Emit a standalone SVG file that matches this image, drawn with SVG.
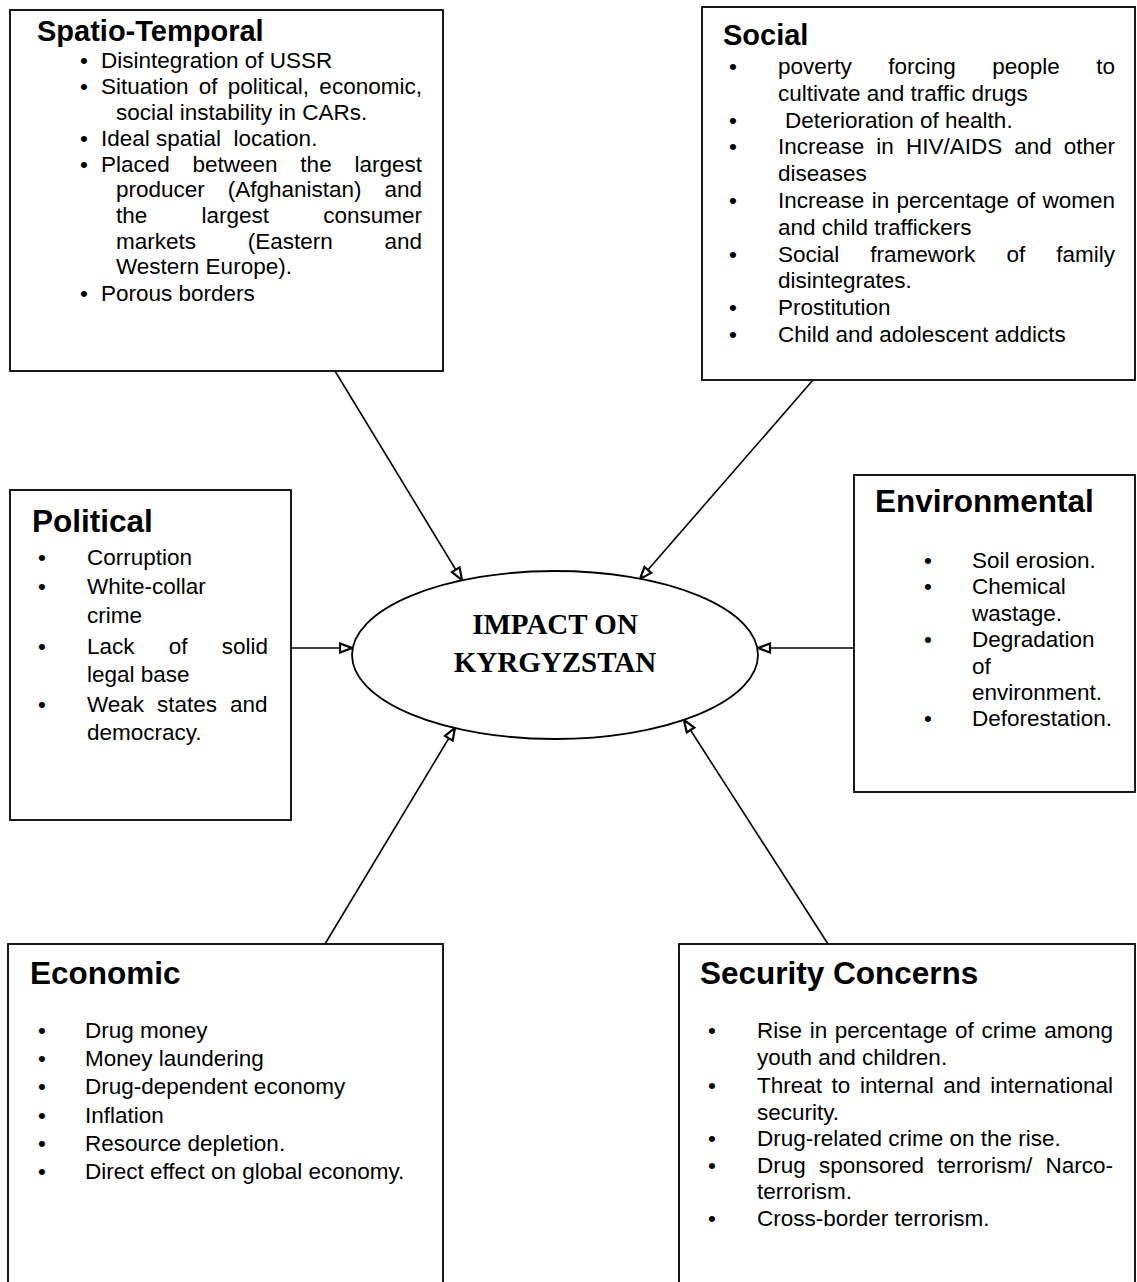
<svg xmlns="http://www.w3.org/2000/svg" width="1137" height="1282" viewBox="0 0 1137 1282">
  <style>
    .box { fill: #fff; stroke: #000; stroke-width: 1.8; }
    .hd { font-family: "Liberation Sans", Arial, sans-serif; font-weight: bold; font-size: 29px; fill: #000; }
    .hd2 { font-family: "Liberation Sans", Arial, sans-serif; font-weight: bold; font-size: 31.5px; fill: #000; }
    .tx { font-family: "Liberation Sans", Arial, sans-serif; font-size: 22.5px; fill: #000; }
    .core { font-family: "Liberation Serif", "Times New Roman", serif; font-weight: bold; font-size: 29px; fill: #000; }
    .link { stroke: #000; stroke-width: 1.6; fill: none; marker-end: url(#arr); }
  </style>
  <defs>
    <marker id="arr" viewBox="0 0 15 12" refX="13.5" refY="6" markerWidth="15" markerHeight="12" markerUnits="userSpaceOnUse" orient="auto">
      <path d="M1.5,1.5 L13.5,6 L1.5,10.5 Z" fill="#fff" stroke="#000" stroke-width="2.2" stroke-linejoin="miter"/>
    </marker>
  </defs>
  <rect width="1137" height="1282" fill="#fff"/>

  <g id="connectors">
    <line class="link" x1="335" y1="371" x2="462" y2="580"/>
    <line class="link" x1="813" y1="380" x2="640" y2="579"/>
    <line class="link" x1="291" y1="648" x2="352" y2="648"/>
    <line class="link" x1="854" y1="648" x2="758" y2="648"/>
    <line class="link" x1="325" y1="944" x2="455" y2="728"/>
    <line class="link" x1="828" y1="944" x2="684" y2="720"/>
  </g>

  <g id="impact">
    <ellipse cx="555" cy="655" rx="203" ry="84" fill="#fff" stroke="#000" stroke-width="1.8"/>
    <text class="core" x="555" y="634" text-anchor="middle">IMPACT ON</text>
    <text class="core" x="555" y="672" text-anchor="middle">KYRGYZSTAN</text>
  </g>

  <g id="spatio-temporal">
    <rect class="box" x="10" y="10" width="433" height="361"/>
    <text class="hd" x="37" y="41">Spatio-Temporal</text>
    <text class="tx" x="80" y="68">•</text>
    <text class="tx" x="101" y="68">Disintegration of USSR</text>
    <text class="tx" x="80" y="94">•</text>
    <text class="tx" x="101" y="94" word-spacing="4">Situation of political, economic,</text>
    <text class="tx" x="116" y="120">social instability in CARs.</text>
    <text class="tx" x="80" y="146">•</text>
    <text class="tx" x="101" y="146">Ideal spatial&#160; location.</text>
    <text class="tx" x="80" y="172">•</text>
    <text class="tx" x="101" y="172" word-spacing="16.5">Placed between the largest</text>
    <text class="tx" x="116" y="197" word-spacing="16.7">producer (Afghanistan) and</text>
    <text class="tx" x="116" y="223" word-spacing="48">the largest consumer</text>
    <text class="tx" x="116" y="249" word-spacing="45.5">markets (Eastern and</text>
    <text class="tx" x="116" y="274">Western Europe).</text>
    <text class="tx" x="80" y="301">•</text>
    <text class="tx" x="101" y="301">Porous borders</text>
  </g>

  <g id="social">
    <rect class="box" x="702" y="7" width="433" height="373"/>
    <text class="hd" x="723" y="45">Social</text>
    <text class="tx" x="729" y="74">•</text>
    <text class="tx" x="778" y="74" word-spacing="30.2">poverty forcing people to</text>
    <text class="tx" x="778" y="101">cultivate and traffic drugs</text>
    <text class="tx" x="729" y="128">•</text>
    <text class="tx" x="785" y="128">Deterioration of health.</text>
    <text class="tx" x="729" y="154">•</text>
    <text class="tx" x="778" y="154" word-spacing="5.8">Increase in HIV/AIDS and other</text>
    <text class="tx" x="778" y="181">diseases</text>
    <text class="tx" x="729" y="208">•</text>
    <text class="tx" x="778" y="208" word-spacing="1.1">Increase in percentage of women</text>
    <text class="tx" x="778" y="235">and child traffickers</text>
    <text class="tx" x="729" y="262">•</text>
    <text class="tx" x="778" y="262" word-spacing="24.8">Social framework of family</text>
    <text class="tx" x="778" y="288">disintegrates.</text>
    <text class="tx" x="729" y="315">•</text>
    <text class="tx" x="778" y="315">Prostitution</text>
    <text class="tx" x="729" y="342">•</text>
    <text class="tx" x="778" y="342">Child and adolescent addicts</text>
  </g>

  <g id="political">
    <rect class="box" x="10" y="490" width="281" height="330"/>
    <text class="hd2" x="32" y="532">Political</text>
    <text class="tx" x="38" y="565">•</text>
    <text class="tx" x="87" y="565">Corruption</text>
    <text class="tx" x="38" y="594">•</text>
    <text class="tx" x="87" y="594">White-collar</text>
    <text class="tx" x="87" y="623">crime</text>
    <text class="tx" x="38" y="654">•</text>
    <text class="tx" x="87" y="654" word-spacing="28">Lack of solid</text>
    <text class="tx" x="87" y="682">legal base</text>
    <text class="tx" x="38" y="712">•</text>
    <text class="tx" x="87" y="712" word-spacing="6.7">Weak states and</text>
    <text class="tx" x="87" y="740">democracy.</text>
  </g>

  <g id="environmental">
    <rect class="box" x="854" y="475" width="281" height="317"/>
    <text class="hd2" x="875" y="512">Environmental</text>
    <text class="tx" x="924" y="568">•</text>
    <text class="tx" x="972" y="568">Soil erosion.</text>
    <text class="tx" x="924" y="594">•</text>
    <text class="tx" x="972" y="594">Chemical</text>
    <text class="tx" x="972" y="621">wastage.</text>
    <text class="tx" x="924" y="647">•</text>
    <text class="tx" x="972" y="647">Degradation</text>
    <text class="tx" x="972" y="674">of</text>
    <text class="tx" x="972" y="700">environment.</text>
    <text class="tx" x="924" y="726">•</text>
    <text class="tx" x="972" y="726">Deforestation.</text>
  </g>

  <g id="economic">
    <rect class="box" x="8" y="944" width="435" height="360"/>
    <text class="hd2" x="30" y="984">Economic</text>
    <text class="tx" x="38" y="1038">•</text>
    <text class="tx" x="85" y="1038">Drug money</text>
    <text class="tx" x="38" y="1066">•</text>
    <text class="tx" x="85" y="1066">Money laundering</text>
    <text class="tx" x="38" y="1094">•</text>
    <text class="tx" x="85" y="1094">Drug-dependent economy</text>
    <text class="tx" x="38" y="1123">•</text>
    <text class="tx" x="85" y="1123">Inflation</text>
    <text class="tx" x="38" y="1151">•</text>
    <text class="tx" x="85" y="1151">Resource depletion.</text>
    <text class="tx" x="38" y="1179">•</text>
    <text class="tx" x="85" y="1179">Direct effect on global economy.</text>
  </g>

  <g id="security-concerns">
    <rect class="box" x="679" y="944" width="456" height="360"/>
    <text class="hd2" x="700" y="984">Security Concerns</text>
    <text class="tx" x="708" y="1038">•</text>
    <text class="tx" x="757" y="1038" word-spacing="1.4">Rise in percentage of crime among</text>
    <text class="tx" x="757" y="1065">youth and children.</text>
    <text class="tx" x="708" y="1093">•</text>
    <text class="tx" x="757" y="1093" word-spacing="3.3">Threat to internal and international</text>
    <text class="tx" x="757" y="1120">security.</text>
    <text class="tx" x="708" y="1146">•</text>
    <text class="tx" x="757" y="1146">Drug-related crime on the rise.</text>
    <text class="tx" x="708" y="1173">•</text>
    <text class="tx" x="757" y="1173" word-spacing="7">Drug sponsored terrorism/ Narco-</text>
    <text class="tx" x="757" y="1199">terrorism.</text>
    <text class="tx" x="708" y="1226">•</text>
    <text class="tx" x="757" y="1226">Cross-border terrorism.</text>
  </g>
</svg>
